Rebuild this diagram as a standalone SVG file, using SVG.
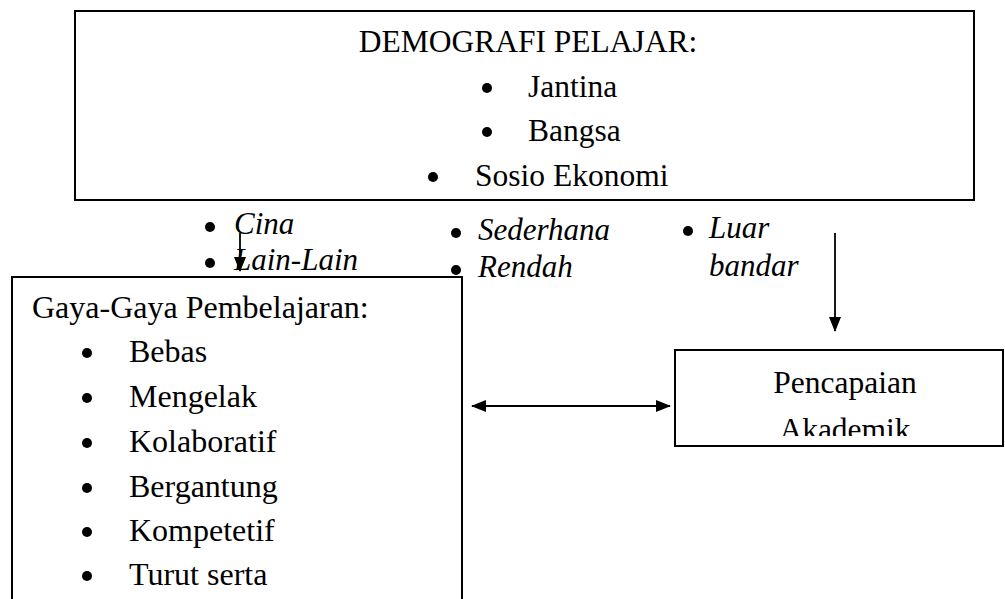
<svg xmlns="http://www.w3.org/2000/svg" width="1005" height="599" viewBox="0 0 1005 599">
<style>
  .t { font-family: "Liberation Serif", "Times New Roman", serif; font-size: 31.5px; fill: #000; }
  .g { font-family: "Liberation Serif", "Times New Roman", serif; font-size: 32px; fill: #000; }
  .i { font-family: "Liberation Serif", "Times New Roman", serif; font-size: 31px; font-style: italic; fill: #000; }
  .box { fill: #fff; stroke: #000; stroke-width: 2; }
  .ln { stroke: #000; stroke-width: 1.8; fill: none; }
</style>
<defs>
  <marker id="ah" markerWidth="15" markerHeight="12" refX="14" refY="6" orient="auto-start-reverse" markerUnits="userSpaceOnUse">
    <path d="M0,0 L15,6 L0,12 Z" fill="#000"/>
  </marker>
  <clipPath id="pclip"><rect x="676" y="351" width="330" height="85"/></clipPath>
</defs>

<g id="sub-items">
  <circle cx="210" cy="227" r="5"/>
  <text class="i" x="234" y="234">Cina</text>
  <circle cx="210" cy="263" r="5"/>
  <text class="i" x="234" y="270">Lain-Lain</text>
  <circle cx="456" cy="233" r="5"/>
  <text class="i" x="478" y="240">Sederhana</text>
  <circle cx="456" cy="270" r="5"/>
  <text class="i" x="478" y="277">Rendah</text>
  <circle cx="688" cy="231" r="5"/>
  <text class="i" x="709" y="238">Luar</text>
  <text class="i" x="709" y="276">bandar</text>
</g>

<g id="demografi">
  <rect class="box" x="75" y="11" width="899" height="189"/>
  <text class="t" x="528" y="52" text-anchor="middle">DEMOGRAFI PELAJAR:</text>
  <circle cx="487" cy="88" r="5"/>
  <text class="t" x="528" y="97">Jantina</text>
  <circle cx="487" cy="132" r="5"/>
  <text class="t" x="528" y="141">Bangsa</text>
  <circle cx="433" cy="177" r="5"/>
  <text class="t" x="475" y="186">Sosio Ekonomi</text>
</g>

<g id="connectors">
  <line class="ln" x1="240" y1="233" x2="240" y2="271" marker-end="url(#ah)"/>
  <line class="ln" x1="835" y1="233" x2="835" y2="331" marker-end="url(#ah)"/>
  <line class="ln" x1="472" y1="406" x2="670" y2="406" marker-start="url(#ah)" marker-end="url(#ah)"/>
</g>

<g id="gaya">
  <rect class="box" x="12" y="277" width="450" height="340"/>
  <text class="g" x="32" y="318">Gaya-Gaya Pembelajaran:</text>
  <circle cx="87" cy="353" r="5"/>
  <text class="g" x="129" y="362">Bebas</text>
  <circle cx="87" cy="398" r="5"/>
  <text class="g" x="129" y="407">Mengelak</text>
  <circle cx="87" cy="443" r="5"/>
  <text class="g" x="129" y="452">Kolaboratif</text>
  <circle cx="87" cy="488" r="5"/>
  <text class="g" x="129" y="497">Bergantung</text>
  <circle cx="87" cy="532" r="5"/>
  <text class="g" x="129" y="541">Kompetetif</text>
  <circle cx="87" cy="576" r="5"/>
  <text class="g" x="129" y="585">Turut serta</text>
</g>

<g id="pencapaian">
  <rect class="box" x="675" y="350" width="328" height="96"/>
  <g clip-path="url(#pclip)">
    <text class="t" x="845" y="393" text-anchor="middle">Pencapaian</text>
    <text class="t" x="845" y="440" text-anchor="middle">Akademik</text>
  </g>
</g>
</svg>
